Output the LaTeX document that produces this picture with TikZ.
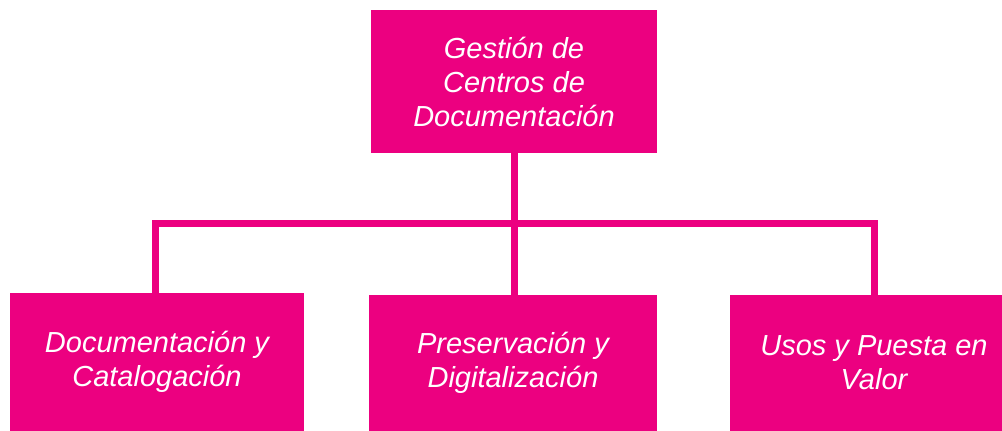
\documentclass[tikz,border=0pt]{standalone}
\usepackage{fontspec}
\setmainfont{Liberation Sans}
\definecolor{magenta}{RGB}{236,0,128}
\begin{document}
\begin{tikzpicture}[x=1pt, y=-1pt,
    box/.style={fill=magenta, text=white, align=center, inner sep=0pt,
        font=\fontsize{29}{34}\selectfont\itshape},
    link/.style={draw=magenta, line width=7pt}]
    \useasboundingbox (0,0) rectangle (1002,431);

    % Boxes
    \node[box, minimum width=286pt, minimum height=143pt] (top) at (514,81.5) {Gestión de\\Centros de\\Documentación};
    \node[box, minimum width=294pt, minimum height=138pt] (doc) at (157,362) {Documentación y\\Catalogación};
    \node[box, minimum width=288pt, minimum height=136pt] (pres) at (513,363) {Preservación y\\Digitalización};
    \node[box, minimum width=272pt, minimum height=136pt] (usos) at (866,363) {\hspace{16pt}Usos y Puesta en\\\hspace{16pt}Valor};

    % Bar ends
    \coordinate (barL) at (155,223.5);
    \coordinate (barR) at (874,223.5);

    % Connectors
    \draw[link] (top.south) -- (top.south |- barL) -- (pres.north -| top.south);
    \draw[link] (doc.north -| barL) -- (barL) -- (barR) -- (usos.north -| barR);
\end{tikzpicture}
\end{document}
